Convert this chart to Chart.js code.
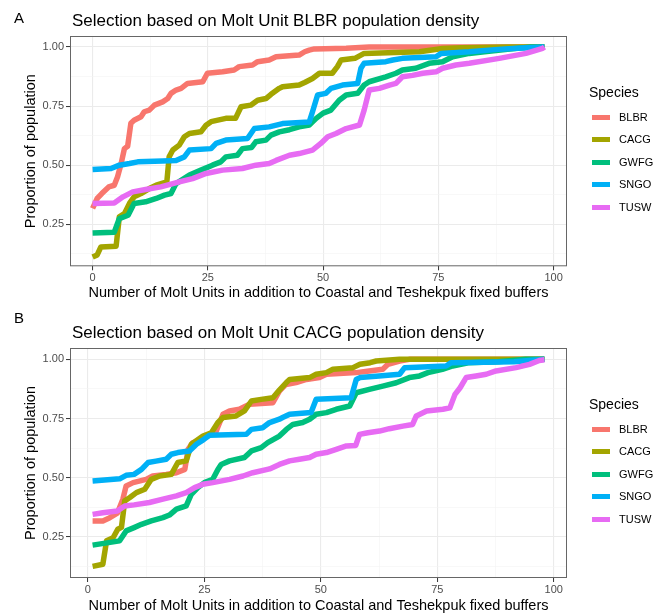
<!DOCTYPE html>
<html>
<head>
<meta charset="utf-8">
<script src="https://cdn.jsdelivr.net/npm/chart.js@4.4.1/dist/chart.umd.min.js"></script>
<style>
  body { margin: 0; background: #fff; }
  #wrap { position: relative; width: 654px; height: 613px; background: #fff; font-family: "Liberation Sans", Arial, Helvetica, sans-serif; }
  #wrap canvas { position: absolute; left: 0; top: 0; }
  .txt { position: absolute; white-space: nowrap; color: #000; }
  .key { position: absolute; width: 18px; height: 5px; }
</style>
</head>
<body>
<div id="wrap">
  <canvas id="chartA" width="654" height="613"></canvas>
  <canvas id="chartB" width="654" height="613"></canvas>
</div>
<script>
// ── Data ──
const species = ['BLBR', 'CACG', 'GWFG', 'SNGO', 'TUSW'];
const colors = ['#F8766D', '#A3A500', '#00BF7D', '#00B0F6', '#E76BF3'];

const xTicks = [0, 12.5, 25, 37.5, 50, 62.5, 75, 87.5, 100];
const yTicks = [0.125, 0.25, 0.375, 0.5, 0.625, 0.75, 0.875, 1];

// Panel A: selection based on BLBR density
const blbrA = [[0,0.317],[1,0.359],[2,0.38],[3.5,0.408],[4.7,0.415],[5.4,0.45],[6.2,0.507],[6.9,0.57],[7.6,0.58],[8.3,0.677],[9,0.69],[10.5,0.705],[11.2,0.726],[12.3,0.733],[13.4,0.754],[15.2,0.768],[16.3,0.782],[17,0.804],[18.1,0.818],[19.2,0.825],[20.6,0.846],[23.9,0.853],[24.9,0.889],[28.2,0.895],[30.7,0.903],[31.8,0.917],[34.7,0.924],[35.8,0.938],[38.3,0.945],[39.8,0.959],[44.8,0.966],[46,0.98],[47,0.987],[48.1,0.992],[55,0.995],[60,1],[98,1]];
const cacgA = [[0,0.111],[1,0.12],[1.8,0.154],[5.1,0.157],[5.8,0.281],[6.9,0.295],[8,0.338],[9,0.366],[10.5,0.38],[12.3,0.401],[13.8,0.415],[16.1,0.429],[16.6,0.535],[17.4,0.564],[18.8,0.585],[19.9,0.62],[21,0.634],[23.5,0.641],[24.6,0.669],[25.7,0.684],[28.9,0.698],[31,0.698],[32.2,0.747],[34.3,0.754],[35.8,0.775],[37.6,0.782],[38.7,0.8],[40.5,0.825],[41.2,0.832],[44.8,0.839],[46,0.85],[47.7,0.867],[49.2,0.889],[52,0.889],[53.1,0.917],[53.9,0.945],[56.9,0.952],[58.9,0.973],[70.9,0.98],[75.9,0.994],[80,0.997],[90,1],[98,1]];
const gwfgA = [[0,0.213],[4.7,0.216],[5.8,0.274],[7.7,0.288],[9,0.338],[11.5,0.345],[13.8,0.359],[15.6,0.373],[17,0.38],[18.1,0.422],[21,0.458],[23.5,0.479],[26,0.5],[27.8,0.514],[28.9,0.535],[31.4,0.542],[32.5,0.57],[34.5,0.575],[35.4,0.599],[37.6,0.606],[38.7,0.627],[40.5,0.641],[42.7,0.65],[44.8,0.662],[47,0.67],[48.5,0.698],[50,0.72],[51.7,0.733],[53.5,0.775],[55,0.797],[57.5,0.804],[58.9,0.839],[60,0.853],[63.6,0.874],[65.8,0.889],[67.2,0.903],[70.1,0.91],[73,0.931],[75.9,0.938],[78.1,0.959],[81.7,0.973],[85,0.98],[90,0.99],[95,1],[98,1]];
const sngoA = [[0,0.482],[4,0.486],[5.8,0.5],[8,0.507],[9.8,0.514],[15.2,0.518],[18.1,0.52],[19.9,0.535],[21,0.564],[25.7,0.57],[26.8,0.592],[28.9,0.606],[33.6,0.613],[35.1,0.655],[38.3,0.662],[41.2,0.676],[47,0.683],[47.7,0.726],[48.8,0.797],[50.6,0.804],[51.7,0.825],[54.2,0.839],[57.5,0.846],[58.2,0.91],[58.9,0.931],[63.6,0.938],[65.1,0.945],[67.2,0.952],[74.5,0.959],[75.6,0.973],[81.7,0.98],[88,0.99],[92,0.995],[98,1]];
const tuswA = [[0,0.338],[4.7,0.34],[6.6,0.366],[8.7,0.387],[11.5,0.397],[14.8,0.408],[18.8,0.429],[21.7,0.443],[24.6,0.465],[28.2,0.479],[32.5,0.486],[35.4,0.5],[38.3,0.507],[39.8,0.52],[42.7,0.542],[44.8,0.549],[47.7,0.564],[49.5,0.592],[51,0.62],[52.8,0.634],[55,0.655],[57.9,0.67],[58.9,0.733],[60,0.818],[62.2,0.825],[64.4,0.839],[65.8,0.846],[67.2,0.874],[69.4,0.88],[71.6,0.889],[74.5,0.895],[75.9,0.91],[78.8,0.924],[81.7,0.931],[88.2,0.952],[94,0.973],[97.6,0.994],[98,1]];

// Panel B: selection based on CACG density
const blbrB = [[1,0.317],[3.2,0.317],[4.7,0.331],[6.3,0.35],[7.5,0.409],[8.2,0.465],[9.7,0.479],[12.5,0.493],[13.9,0.507],[16.8,0.514],[19,0.521],[20.8,0.535],[21.5,0.62],[22.5,0.648],[24.2,0.655],[25.4,0.676],[27.4,0.69],[29,0.768],[30.4,0.782],[32.5,0.789],[34.7,0.81],[39.7,0.817],[41.1,0.866],[42.5,0.894],[44.7,0.902],[46.9,0.915],[49.7,0.923],[51.2,0.937],[57.6,0.944],[60.4,0.951],[63.3,0.958],[64.4,0.979],[66.9,0.993],[69,1],[98,1]];
const cacgB = [[1,0.125],[3.2,0.134],[4,0.233],[5.4,0.246],[6.4,0.282],[7.2,0.29],[7.9,0.402],[9,0.416],[10.4,0.437],[12.2,0.451],[13.6,0.493],[15.4,0.507],[17.9,0.514],[19.3,0.564],[21.1,0.571],[22.2,0.641],[24.7,0.676],[26.5,0.69],[27.9,0.733],[29,0.754],[31.8,0.761],[33.6,0.782],[35.1,0.824],[37.2,0.831],[39.7,0.838],[41.1,0.87],[42.6,0.902],[43.3,0.915],[47.6,0.923],[49,0.937],[51.2,0.944],[52.6,0.958],[56.9,0.965],[58.4,0.979],[60.6,0.986],[61.9,0.993],[66.9,1],[98,1]];
const gwfgB = [[1,0.215],[6.8,0.233],[8.2,0.275],[9.9,0.289],[11.5,0.303],[13.6,0.317],[16.1,0.331],[17.5,0.342],[19,0.367],[21.1,0.381],[22.2,0.43],[23.6,0.458],[25,0.479],[26.8,0.493],[27.9,0.535],[28.6,0.556],[30.4,0.571],[33.6,0.585],[35.1,0.613],[37.2,0.627],[38.6,0.648],[41.1,0.676],[42.6,0.704],[44,0.725],[46.1,0.733],[47.6,0.747],[49,0.768],[51.2,0.775],[53.3,0.789],[56.2,0.803],[57.6,0.859],[60.4,0.873],[63.3,0.887],[66.2,0.901],[69,0.923],[71.2,0.93],[73,0.944],[76.1,0.958],[78.3,0.972],[81.9,0.986],[88,0.99],[94,1],[98,1]];
const sngoB = [[1,0.486],[6.8,0.495],[8.2,0.51],[9.9,0.514],[11.5,0.535],[12.9,0.564],[14.6,0.57],[16.8,0.578],[17.9,0.599],[19.3,0.606],[21.8,0.613],[23.3,0.641],[24.9,0.662],[26.1,0.679],[34,0.683],[35.1,0.704],[37.5,0.711],[39,0.733],[41.1,0.747],[41.8,0.754],[43.3,0.768],[47.9,0.775],[49,0.831],[56.5,0.838],[57.6,0.915],[58.4,0.923],[62.5,0.93],[66.9,0.937],[68,0.965],[76.9,0.972],[78,0.986],[91.5,0.99],[98,1]];
const tuswB = [[1,0.345],[3.2,0.352],[6.3,0.359],[7.9,0.38],[9.9,0.385],[13.2,0.395],[16.1,0.409],[19,0.423],[21.1,0.437],[22.9,0.458],[24.7,0.472],[26.8,0.479],[30.4,0.493],[33.3,0.507],[35.4,0.521],[39,0.537],[41.1,0.556],[43.3,0.571],[45.4,0.578],[47.6,0.585],[49,0.599],[51.2,0.606],[53.3,0.62],[55.5,0.634],[57.5,0.636],[58.3,0.683],[60.1,0.69],[62.6,0.697],[64.7,0.707],[67.6,0.718],[69.7,0.725],[70.5,0.761],[72.7,0.782],[76.2,0.789],[77.7,0.795],[78.8,0.852],[79.9,0.88],[81.2,0.923],[83.3,0.93],[85.5,0.937],[87.6,0.951],[91.9,0.965],[94.8,0.979],[96.9,0.995],[98,0.998]];

const FONT = "'Liberation Sans', Arial, Helvetica, sans-serif";

// ── Helpers ──
function isMajor(v, step) {
    return Math.abs(v / step - Math.round(v / step)) < 1e-6;
}

// panel border (ggplot theme_bw style)
const borderPlugin = {
    id: 'panelBorder',
    afterDatasetsDraw(chart) {
        const a = chart.chartArea;
        const ctx = chart.ctx;
        ctx.save();
        ctx.strokeStyle = '#666';
        ctx.lineWidth = 1;
        ctx.strokeRect(a.left + 0.5, a.top + 0.5, a.right - a.left - 1, a.bottom - a.top - 1);
        ctx.restore();
    }
};

function makeChart(canvasId, series, p) {
    const datasets = series.map((s, i) => ({
        label: species[i],
        data: s.map(([x, y]) => ({ x, y })),
        borderColor: colors[i],
        backgroundColor: colors[i],
        borderWidth: 5.5,
        borderJoinStyle: 'round',
        borderCapStyle: 'butt',
        pointRadius: 0,
        tension: 0,
        order: series.length - i
    }));

    const gridStyle = (step) => ({
        color: (c) => c.tick && isMajor(c.tick.value, step) ? '#EBEBEB' : '#F4F4F4',
        lineWidth: (c) => c.tick && isMajor(c.tick.value, step) ? 1.1 : 0.6,
        tickColor: (c) => c.tick && isMajor(c.tick.value, step) ? '#333' : 'rgba(0,0,0,0)',
        tickWidth: 1,
        tickLength: 4,
        drawTicks: true
    });

    return new Chart(document.getElementById(canvasId), {
        type: 'line',
        data: { datasets },
        plugins: [borderPlugin],
        options: {
            responsive: false,
            animation: false,
            layout: { padding: { top: p.top, bottom: p.bottom, left: 24, right: 87 } },
            plugins: { legend: { display: false }, tooltip: { enabled: false }, title: { display: false } },
            scales: {
                x: {
                    type: 'linear',
                    min: p.xMin, max: p.xMax,
                    afterBuildTicks: (s) => { s.ticks = xTicks.map(v => ({ value: v })); },
                    afterFit: (s) => { s.height = p.xH; },
                    border: { display: false },
                    grid: gridStyle(25),
                    ticks: {
                        autoSkip: false, maxRotation: 0, padding: 1,
                        color: '#4D4D4D', font: { family: FONT, size: 11 },
                        callback: (v) => isMajor(v, 25) ? String(v) : ''
                    },
                    title: {
                        display: true,
                        text: 'Number of Molt Units in addition to Coastal and Teshekpuk fixed buffers',
                        color: '#000', font: { family: FONT, size: 14.5, lineHeight: 1 },
                        padding: { top: 0, bottom: 0 }
                    }
                },
                y: {
                    type: 'linear',
                    min: p.yMin, max: p.yMax,
                    afterBuildTicks: (s) => { s.ticks = yTicks.map(v => ({ value: v })); },
                    afterFit: (s) => { s.width = 46; },
                    border: { display: false },
                    grid: gridStyle(0.25),
                    ticks: {
                        autoSkip: false, padding: 2,
                        color: '#4D4D4D', font: { family: FONT, size: 11 },
                        callback: (v) => isMajor(v, 0.25) ? v.toFixed(2) : ''
                    },
                    title: {
                        display: true,
                        text: 'Proportion of population',
                        color: '#000', font: { family: FONT, size: 14.5, lineHeight: 1 },
                        padding: { top: 0, bottom: 0 }
                    }
                }
            }
        }
    });
}

// ── Text overlays: panel tags, titles, legends ──
const wrap = document.getElementById('wrap');
function addText(text, left, cy, size) {
    const d = document.createElement('div');
    d.className = 'txt';
    d.textContent = text;
    d.style.left = left + 'px';
    d.style.top = (cy - size / 2) + 'px';
    d.style.fontSize = size + 'px';
    d.style.lineHeight = size + 'px';
    wrap.appendChild(d);
}
function addLegend(top) {
    addText('Species', 589, top, 14);
    species.forEach((name, i) => {
        const cy = top + 25 + i * 22.5;
        const k = document.createElement('div');
        k.className = 'key';
        k.style.left = '592px';
        k.style.top = (cy - 2.5) + 'px';
        k.style.background = colors[i];
        wrap.appendChild(k);
        addText(name, 619, cy, 11);
    });
}

makeChart('chartA', [blbrA, cacgA, gwfgA, sngoA, tuswA],
    { top: 36, bottom: 612.7 - 300.3, xH: 34.3, xMin: -4.9, xMax: 102.9, yMin: 0.072, yMax: 1.0466 });
makeChart('chartB', [blbrB, cacgB, gwfgB, sngoB, tuswB],
    { top: 348, bottom: 0, xH: 35, xMin: -3.85, xMax: 102.85, yMin: 0.076, yMax: 1.048 });

addText('A', 14, 17, 15);
addText('Selection based on Molt Unit BLBR population density', 72, 20.5, 17);
addLegend(92);
addText('B', 14, 317, 15);
addText('Selection based on Molt Unit CACG population density', 72, 332.5, 17);
addLegend(404);
</script>
</body>
</html>
